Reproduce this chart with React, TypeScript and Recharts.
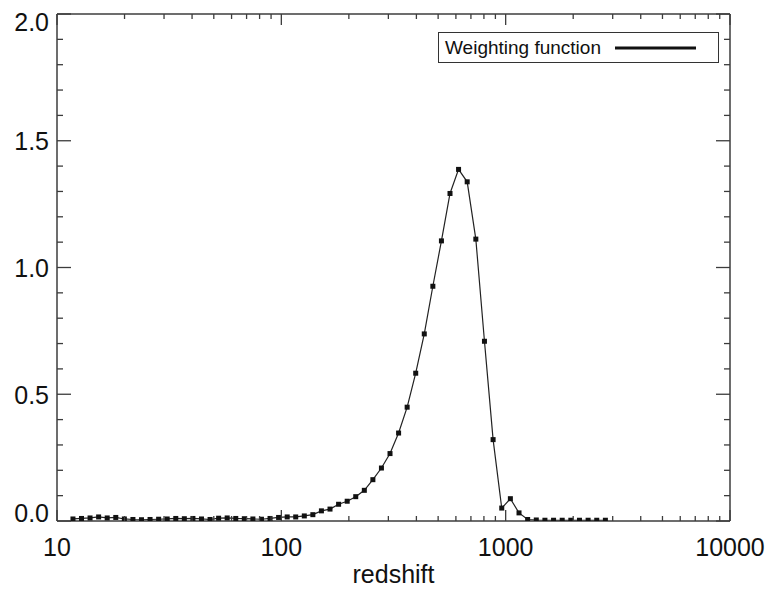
import { LineChart, Line, XAxis, YAxis, Legend } from "recharts";

// redshift grid (log-spaced) and weighting function
const redshift = [
  11.78, 12.86, 14.04, 15.33, 16.74, 18.28, 19.96, 21.8, 23.8, 25.99,
  28.38, 30.99, 33.84, 36.95, 40.35, 44.06, 48.11, 52.53, 57.36, 62.64,
  68.39, 74.68, 81.55, 89.05, 97.23, 106.2, 115.9, 126.6, 138.2, 150.9,
  164.8, 180.0, 196.6, 214.6, 234.4, 255.9, 279.4, 305.1, 333.2, 363.8,
  397.2, 433.7, 473.6, 517.2, 564.8, 616.6, 673.7, 736.2, 804.4, 879.0,
  960.5, 1049.5, 1146.8, 1253.1, 1369.3, 1496.2, 1634.9, 1786.5, 1952.1, 2133.1,
  2330.9, 2546.8, 2782.9,
];
const weighting = [
  0.008, 0.01, 0.012, 0.016, 0.012, 0.014, 0.008, 0.006, 0.005, 0.006,
  0.007, 0.008, 0.01, 0.009, 0.01, 0.008, 0.006, 0.011, 0.012, 0.01,
  0.009, 0.008, 0.007, 0.01, 0.014, 0.016, 0.016, 0.02, 0.025, 0.04,
  0.047, 0.066, 0.078, 0.096, 0.121, 0.163, 0.209, 0.266, 0.347, 0.449,
  0.583, 0.738, 0.926, 1.105, 1.292, 1.387, 1.338, 1.112, 0.709, 0.321,
  0.051, 0.088, 0.032, 0.006, 0.004, 0.003, 0.003, 0.003, 0.003, 0.003,
  0.003, 0.003, 0.003,
];

const seriesName = "Weighting function";
const xTitle = "redshift";

const xMajor = [10, 100, 1000, 10000];
const xTicks = [
  10, 20, 30, 40, 50, 60, 70, 80, 90,
  100, 200, 300, 400, 500, 600, 700, 800, 900,
  1000, 2000, 3000, 4000, 5000, 6000, 7000, 8000, 9000, 10000,
];
const yMajor = [0, 0.5, 1, 1.5, 2];
const yTicks = [
  0, 0.1, 0.2, 0.3, 0.4, 0.5, 0.6, 0.7, 0.8, 0.9, 1,
  1.1, 1.2, 1.3, 1.4, 1.5, 1.6, 1.7, 1.8, 1.9, 2,
];

const data = redshift.map((z, i) => ({ z, w: weighting[i] }));

const AXIS = "#3c3c3c";
const INK = "#111";
const FONT = '"Liberation Sans", Arial, Helvetica, sans-serif';

function BottomTick({ x, y, payload }: any) {
  const major = xMajor.includes(payload.value);
  return (
    <g>
      <line x1={x} x2={x} y1={y} y2={y - (major ? 11 : 5)} stroke={AXIS} strokeWidth={1.3} />
      {major && (
        <text x={x} y={y + 35} textAnchor="middle" fontSize={25} fontFamily={FONT} fill={INK}>
          {payload.value}
        </text>
      )}
    </g>
  );
}

function TopTick({ x, y, payload }: any) {
  const major = xMajor.includes(payload.value);
  return <line x1={x} x2={x} y1={y} y2={y + (major ? 11 : 5)} stroke={AXIS} strokeWidth={1.3} />;
}

function LeftTick({ x, y, payload }: any) {
  const v = payload.value;
  const major = yMajor.some((m) => Math.abs(m - v) < 1e-6);
  // IDL keeps the end labels inside the box
  const dy = v >= 2 ? 16.5 : v <= 0 ? 0.5 : 9.5;
  return (
    <g>
      <line x1={x} x2={x + (major ? 14 : 6)} y1={y} y2={y} stroke={AXIS} strokeWidth={1.3} />
      {major && (
        <text x={x - 8} y={y + dy} textAnchor="end" fontSize={25} fontFamily={FONT} fill={INK}>
          {v.toFixed(1)}
        </text>
      )}
    </g>
  );
}

function RightTick({ x, y, payload }: any) {
  const major = yMajor.some((m) => Math.abs(m - payload.value) < 1e-6);
  return <line x1={x} x2={x - (major ? 14 : 6)} y1={y} y2={y} stroke={AXIS} strokeWidth={1.3} />;
}

function SquareDot({ cx, cy, index }: any) {
  return <rect key={index} x={cx - 2.5} y={cy - 2.5} width={5} height={5} fill={INK} />;
}

function LegendBox({ payload }: any) {
  const label = payload?.[0]?.value ?? seriesName;
  return (
    <div
      style={{
        boxSizing: "border-box",
        width: 281,
        height: 31,
        border: "1px solid #333",
        background: "#fff",
        display: "flex",
        alignItems: "center",
        paddingLeft: 6,
        fontFamily: FONT,
        fontSize: 19,
        color: INK,
      }}
    >
      <span>{label}</span>
      <svg width={81} height={4} style={{ marginLeft: 14 }}>
        <line x1={0} x2={81} y1={2} y2={2} stroke={INK} strokeWidth={3} />
      </svg>
    </div>
  );
}

export default function App() {
  return (
    <div style={{ position: "absolute", left: 0, top: 0, width: 769, height: 589, background: "#fff" }}>
      <LineChart width={769} height={589} data={data} margin={{ top: 0, right: 0, bottom: 0, left: 0 }}>
        <XAxis
          xAxisId="bottom"
          dataKey="z"
          type="number"
          scale="log"
          domain={[10, 10000]}
          allowDataOverflow
          ticks={xTicks}
          interval={0}
          height={68}
          tickSize={0}
          tickMargin={0}
          tickLine={false}
          tick={<BottomTick />}
          axisLine={{ stroke: AXIS, strokeWidth: 1.5 }}
          label={{ value: xTitle, position: "insideBottom", offset: 6, fontSize: 25, fontFamily: FONT, fill: INK }}
        />
        <XAxis
          xAxisId="top"
          orientation="top"
          dataKey="z"
          type="number"
          scale="log"
          domain={[10, 10000]}
          allowDataOverflow
          ticks={xTicks}
          interval={0}
          height={14}
          tickSize={0}
          tickMargin={0}
          tickLine={false}
          tick={<TopTick />}
          axisLine={{ stroke: AXIS, strokeWidth: 1.5 }}
        />
        <YAxis
          yAxisId="left"
          type="number"
          domain={[0, 2]}
          allowDataOverflow
          ticks={yTicks}
          interval={0}
          width={57}
          tickSize={0}
          tickMargin={0}
          tickLine={false}
          tick={<LeftTick />}
          axisLine={{ stroke: AXIS, strokeWidth: 1.5 }}
        />
        <YAxis
          yAxisId="right"
          orientation="right"
          type="number"
          domain={[0, 2]}
          allowDataOverflow
          ticks={yTicks}
          interval={0}
          width={39}
          tickSize={0}
          tickMargin={0}
          tickLine={false}
          tick={<RightTick />}
          axisLine={{ stroke: AXIS, strokeWidth: 1.5 }}
        />
        <Legend
          layout="horizontal"
          verticalAlign="middle"
          align="center"
          content={<LegendBox />}
          wrapperStyle={{ left: 438, top: 32, width: 281, height: 31 }}
        />
        <Line
          xAxisId="bottom"
          yAxisId="left"
          dataKey="w"
          name={seriesName}
          type="linear"
          stroke="#222"
          strokeWidth={1.2}
          dot={<SquareDot />}
          activeDot={false}
          isAnimationActive={false}
        />
      </LineChart>
    </div>
  );
}
